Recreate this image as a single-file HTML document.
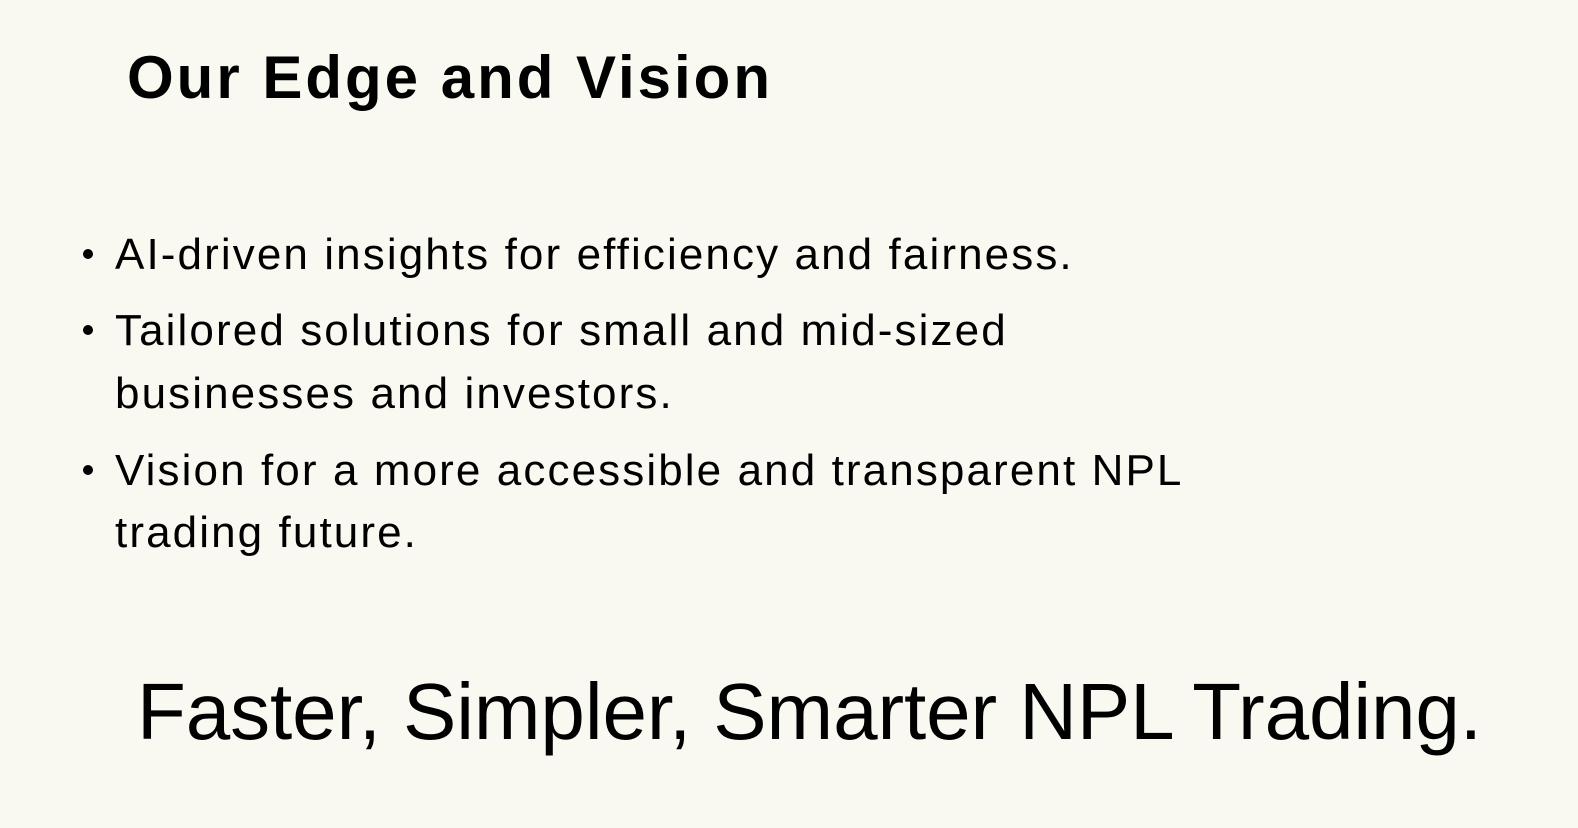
<!DOCTYPE html>
<html><head><meta charset="utf-8"><style>
html,body{margin:0;padding:0}
body{width:1578px;height:828px;background:#f9f9f1;position:relative;overflow:hidden;font-family:"Liberation Sans",sans-serif;color:#000}
.t{position:absolute;white-space:nowrap;line-height:1}
#title{left:127px;top:48px;font-size:60px;font-weight:bold;letter-spacing:3px}
.b{font-size:44px;left:115px;letter-spacing:2.1px}
.dot{position:absolute;width:10px;height:10px;border-radius:50%;background:#000;left:83px}
#tag{left:137px;top:672px;font-size:80px;letter-spacing:-0.1px}
</style></head><body>
<div class="t" id="title">Our Edge and Vision</div>
<div class="dot" style="top:249px"></div>
<div class="t b" style="top:233px">AI-driven insights for efficiency and fairness.</div>
<div class="dot" style="top:325px"></div>
<div class="t b" style="top:309px">Tailored solutions for small and mid-sized</div>
<div class="t b" style="top:372px">businesses and investors.</div>
<div class="dot" style="top:465px"></div>
<div class="t b" style="top:449px">Vision for a more accessible and transparent NPL</div>
<div class="t b" style="top:511px">trading future.</div>
<div class="t" id="tag">Faster, Simpler, Smarter NPL Trading.</div>
</body></html>
